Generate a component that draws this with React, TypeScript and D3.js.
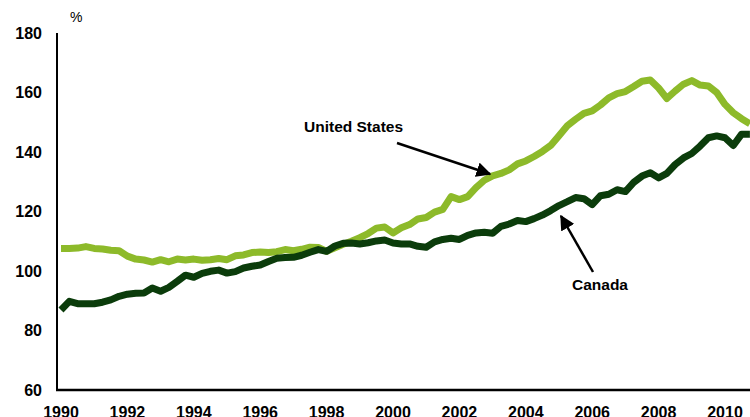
import * as d3 from "d3";

// quarterly, 1990Q1 .. 2010Q4, index (1990 = 100 area)
const startYear = 1990;
const unitedStates = [
  107.6, 107.6, 107.7, 108.2, 107.6, 107.4, 107, 106.8,
  105, 104, 103.7, 103, 103.8, 103.1, 104, 103.7,
  104, 103.6, 103.8, 104.2, 103.8, 105.1, 105.4, 106.2,
  106.4, 106.2, 106.5, 107.2, 106.8, 107.3, 108, 107.9,
  106.6, 107.8, 109, 110, 111.2, 112.6, 114.4, 114.8,
  112.8, 114.5, 115.6, 117.5, 118, 119.8, 120.7, 125,
  124, 125, 128, 130.5, 132, 132.8, 134, 136,
  137, 138.5, 140.2, 142.2, 145.5, 148.8, 151, 153,
  153.8, 155.8, 158.2, 159.6, 160.3, 162, 163.8, 164.2,
  161.5, 158, 160.5, 162.8, 164, 162.5, 162.2, 160,
  156, 153.2, 151.2, 149.5,
];
const canada = [
  86.9, 89.8, 89, 89, 89, 89.5, 90.3, 91.5,
  92.2, 92.5, 92.6, 94.3, 93.2, 94.5, 96.5, 98.6,
  97.9, 99.2, 99.9, 100.3, 99.3, 99.8, 101, 101.6,
  102, 103.2, 104.3, 104.5, 104.6, 105.3, 106.3, 107.2,
  106.6, 108.4, 109.3, 109.4, 109.1, 109.5, 110.1, 110.4,
  109.4, 109.1, 109.1, 108.3, 108, 109.8, 110.6, 111,
  110.6, 112, 112.8, 113, 112.7, 115, 115.8, 117,
  116.6, 117.6, 118.8, 120.3, 122, 123.3, 124.7, 124.3,
  122.3, 125.3, 125.8, 127.3, 126.7, 129.8, 131.9, 133,
  131.3, 132.8, 135.8, 138, 139.5, 142, 144.8, 145.4,
  144.8, 142.2, 146, 146,
];
const xTicks = [1990, 1992, 1994, 1996, 1998, 2000, 2002, 2004, 2006, 2008, 2010];
const yTicks = [60, 80, 100, 120, 140, 160, 180];

const width = 750;
const height = 417;

export default function App() {
  const x = d3.scaleLinear().domain([1990, 2010]).range([61, 725]);
  const y = d3.scaleLinear().domain([60, 180]).range([390, 33]);

  const line = d3
    .line<number>()
    .x((_, i) => x(startYear + i / 4))
    .y((d) => y(d))
    .curve(d3.curveLinear);

  const font = "'Liberation Sans', Arial, sans-serif";

  return (
    <svg
      width={width}
      height={height}
      style={{ position: "absolute", left: 0, top: 0, background: "#fff" }}
      fontFamily={font}
    >
      <defs>
        <clipPath id="plot">
          <rect x={58} y={0} width={width - 58} height={389} />
        </clipPath>
        <marker
          id="head"
          viewBox="0 0 10 10"
          refX={9}
          refY={5}
          markerWidth={6}
          markerHeight={6}
          orient="auto"
        >
          <path d="M0,0 L10,5 L0,10 z" fill="#000" />
        </marker>
      </defs>

      {/* series */}
      <g clipPath="url(#plot)" fill="none" strokeWidth={7} strokeLinejoin="round">
        <path d={line(unitedStates) ?? ""} stroke="#8dba2a" />
        <path d={line(canada) ?? ""} stroke="#0b3c0b" />
      </g>

      {/* axes */}
      <line x1={57} x2={57} y1={33} y2={391} stroke="#000" strokeWidth={2} />
      <line x1={56} x2={width} y1={390} y2={390} stroke="#000" strokeWidth={2.5} />

      {yTicks.map((t) => (
        <text
          key={t}
          x={42}
          y={y(t)}
          dy="0.36em"
          textAnchor="end"
          fontSize={16}
          fontWeight="bold"
        >
          {t}
        </text>
      ))}
      {xTicks.map((t) => (
        <text key={t} x={x(t)} y={418} textAnchor="middle" fontSize={16} fontWeight="bold">
          {t}
        </text>
      ))}
      <text x={70} y={22} fontSize={14}>
        %
      </text>

      {/* labels */}
      <text x={304} y={132} fontSize={15.5} fontWeight="bold">
        United States
      </text>
      <line x1={397} y1={143} x2={490} y2={174} stroke="#000" strokeWidth={2.5} markerEnd="url(#head)" />
      <text x={572} y={290} fontSize={15.5} fontWeight="bold">
        Canada
      </text>
      <line x1={593} y1={272} x2={561} y2={216} stroke="#000" strokeWidth={2.5} markerEnd="url(#head)" />
    </svg>
  );
}
